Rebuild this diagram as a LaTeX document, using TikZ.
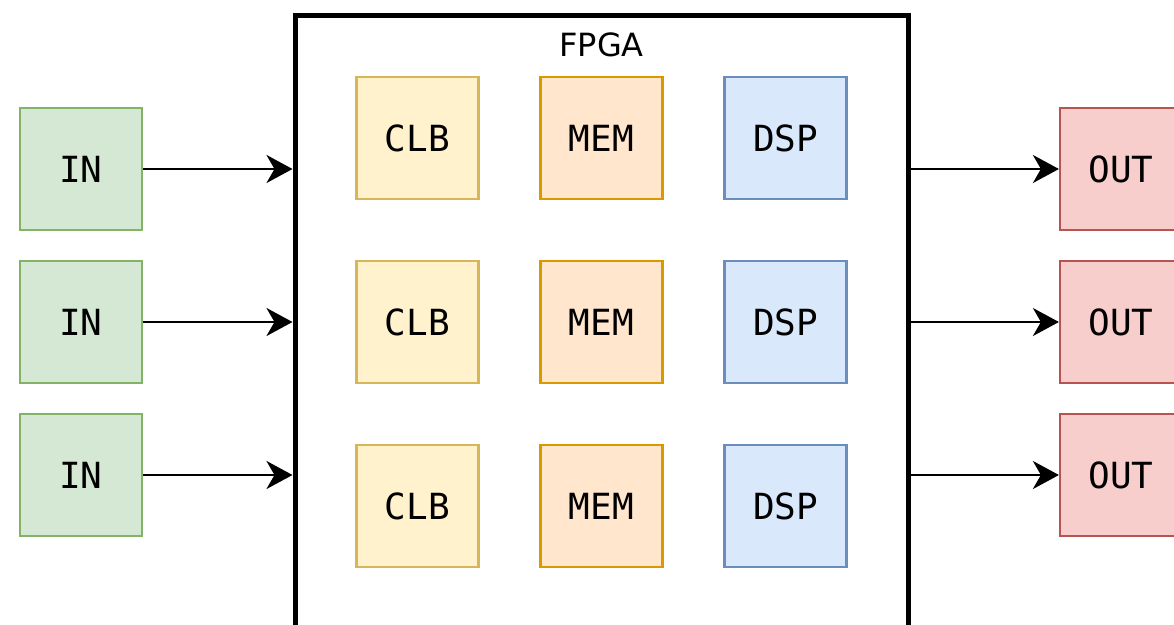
\documentclass[tikz,border=0pt]{standalone}
\usepackage{fontspec}
\setmainfont{DejaVu Sans}
\newfontfamily\blockfont{DejaVu Sans Mono}
\usetikzlibrary{arrows.meta}
\definecolor{ingreenfill}{HTML}{D5E8D4}\definecolor{ingreenline}{HTML}{82B366}
\definecolor{clbfill}{HTML}{FFF2CC}\definecolor{clbline}{HTML}{D6B656}
\definecolor{memfill}{HTML}{FFE6CC}\definecolor{memline}{HTML}{D79B00}
\definecolor{dspfill}{HTML}{DAE8FC}\definecolor{dspline}{HTML}{6C8EBF}
\definecolor{outfill}{HTML}{F8CECC}\definecolor{outline}{HTML}{B85450}
\tikzset{
  block/.style={rectangle, minimum width=122pt, minimum height=122pt, inner sep=0pt,
    line width=2.2pt, font=\blockfont\fontsize{36}{36}\selectfont},
  inblock/.style={block, fill=ingreenfill, draw=ingreenline},
  clbblock/.style={block, fill=clbfill, draw=clbline},
  memblock/.style={block, fill=memfill, draw=memline},
  dspblock/.style={block, fill=dspfill, draw=dspline},
  outblock/.style={block, fill=outfill, draw=outline},
  chip/.style={rectangle, draw=black, line width=5pt, fill=white,
    minimum width=613pt, minimum height=700pt, inner sep=0pt},
  link/.style={line width=2.6pt, -{Stealth[length=26pt, width=28pt, inset=8pt]}},
}
\begin{document}
\begin{tikzpicture}[x=1pt, y=-1pt]
  \useasboundingbox (0,0) rectangle (1174,624);
  \clip (0,0) rectangle (1174,624);
  % FPGA die
  \node[chip] (fpga) at (601.5,365) {};
  \node[font=\fontsize{32}{32}\selectfont] (fpgalabel) at (601.5,45) {FPGA};
  % fabric resources
  \foreach \r/\y in {1/138, 2/322, 3/506} {
    \node[clbblock] (clb\r) at (417.5,\y) {CLB};
    \node[memblock] (mem\r) at (601.5,\y) {MEM};
    \node[dspblock] (dsp\r) at (785.5,\y) {DSP};
  }
  % I/O
  \foreach \r/\y in {1/169, 2/322, 3/475} {
    \node[inblock] (in\r) at (81,\y) {IN};
    \node[outblock] (out\r) at (1121,\y) {OUT};
    \draw[link] (in\r.east) -- (in\r.east -| fpga.west);
    \draw[link] (out\r.west -| fpga.east) -- (out\r.west);
  }
\end{tikzpicture}
\end{document}
